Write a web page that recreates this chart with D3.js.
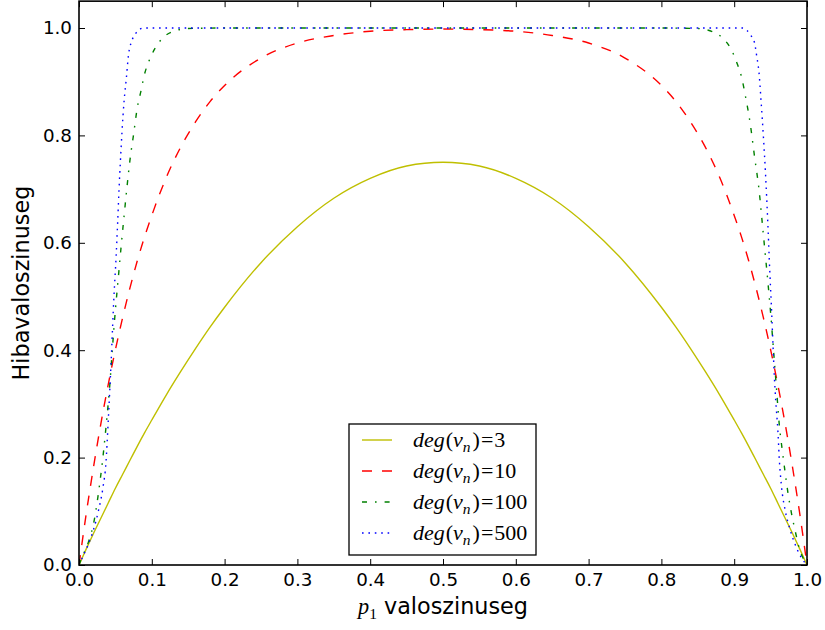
<!DOCTYPE html>
<html lang="en">
<head>
  <meta charset="UTF-8">
  <title>Hibavaloszinuseg</title>
  <script src="https://d3js.org/d3.v7.min.js"></script>
  <style>
    body { margin: 0; background: #fff; }
    text { font-family: "DejaVu Sans", sans-serif; fill: #000; }
    .tick line { stroke: #000; stroke-width: 1px; }
    .tick text { font-size: 18.3px; }
    .math { font-family: "Liberation Serif", "DejaVu Serif", serif; }
  </style>
</head>
<body>
  <svg width="825" height="630"></svg>

  <script>
    // tick values
    const xTicks = [0, 0.1, 0.2, 0.3, 0.4, 0.5, 0.6, 0.7, 0.8, 0.9, 1.0];
    const yTicks = [0, 0.2, 0.4, 0.6, 0.8, 1.0];

    // shared p grid for the deg=3 and deg=10 curves
    const pGrid = [0, 0.01, 0.02, 0.03, 0.04, 0.05, 0.06, 0.07, 0.08, 0.09, 0.10, 0.12, 0.14, 0.16, 0.18, 0.20,
      0.25, 0.30, 0.35, 0.40, 0.45, 0.50, 0.55, 0.60, 0.65, 0.70, 0.75, 0.80, 0.82, 0.84, 0.86, 0.88,
      0.90, 0.91, 0.92, 0.93, 0.94, 0.95, 0.96, 0.97, 0.98, 0.99, 1.0];
    const deg3 = [0, 0.030, 0.059, 0.087, 0.115, 0.143, 0.169, 0.195, 0.221, 0.246, 0.270, 0.317, 0.361, 0.403, 0.443, 0.480,
      0.563, 0.630, 0.683, 0.720, 0.743, 0.750, 0.743, 0.720, 0.683, 0.630, 0.563, 0.480, 0.443, 0.403, 0.361, 0.317,
      0.270, 0.246, 0.221, 0.195, 0.169, 0.143, 0.115, 0.087, 0.059, 0.030, 0];
    const deg10 = [0, 0.096, 0.183, 0.263, 0.335, 0.401, 0.461, 0.516, 0.566, 0.611, 0.651, 0.722, 0.779, 0.825, 0.863, 0.893,
      0.944, 0.972, 0.986, 0.994, 0.997, 0.998, 0.997, 0.994, 0.986, 0.972, 0.944, 0.893, 0.863, 0.825, 0.779, 0.722,
      0.651, 0.611, 0.566, 0.516, 0.461, 0.401, 0.335, 0.263, 0.183, 0.096, 0];

    // deg=100
    const p100 = [0, 0.005, 0.013, 0.021, 0.026, 0.030, 0.034, 0.038, 0.042, 0.046, 0.050, 0.054, 0.058, 0.062, 0.066, 0.070,
      0.075, 0.080, 0.085, 0.090, 0.096, 0.104, 0.114, 0.128, 0.150, 0.200, 0.500, 0.800, 0.850, 0.872, 0.886, 0.896,
      0.904, 0.910, 0.916, 0.922, 0.928, 0.934, 0.940, 0.946, 0.950, 0.954, 0.958, 0.962, 0.966, 0.970, 0.974, 0.979,
      0.984, 0.990, 0.995, 1.0];
    const deg100 = [0, 0.017, 0.043, 0.084, 0.127, 0.168, 0.215, 0.270, 0.330, 0.405, 0.475, 0.535, 0.595, 0.651, 0.705, 0.754,
      0.802, 0.851, 0.882, 0.914, 0.938, 0.961, 0.980, 0.993, 0.999, 1.0, 1.0, 1.0, 0.999, 0.992, 0.979, 0.960,
      0.934, 0.909, 0.869, 0.822, 0.760, 0.700, 0.616, 0.531, 0.470, 0.400, 0.330, 0.260, 0.214, 0.172, 0.133, 0.094,
      0.062, 0.028, 0.012, 0];

    // deg=500
    const p500 = [0, 0.006, 0.012, 0.020, 0.027, 0.033, 0.037, 0.040, 0.044, 0.048, 0.051, 0.053, 0.055, 0.057, 0.059, 0.062,
      0.065, 0.068, 0.072, 0.077, 0.082, 0.088, 0.500, 0.912, 0.918, 0.923, 0.928, 0.931, 0.934, 0.937, 0.940, 0.943,
      0.946, 0.949, 0.951, 0.953, 0.955, 0.957, 0.960, 0.962, 0.965, 0.970, 0.977, 0.985, 0.993, 1.0];
    const deg500 = [0, 0.018, 0.036, 0.066, 0.103, 0.145, 0.190, 0.264, 0.375, 0.500, 0.575, 0.635, 0.700, 0.755, 0.805, 0.865,
      0.906, 0.950, 0.974, 0.988, 0.996, 1.0, 1.0, 1.0, 0.995, 0.986, 0.972, 0.947, 0.918, 0.862, 0.800, 0.729,
      0.642, 0.543, 0.485, 0.419, 0.355, 0.307, 0.250, 0.196, 0.146, 0.102, 0.065, 0.034, 0.012, 0];

    const seriesNames = ["3", "10", "100", "500"];

    const series = [
      { name: seriesNames[0], xs: pGrid, ys: deg3, color: "#bfbf00", dash: null },
      { name: seriesNames[1], xs: pGrid, ys: deg10, color: "#ff0000", dash: "10,10" },
      { name: seriesNames[2], xs: p100, ys: deg100, color: "#008000", dash: "5,8,1.6,8" },
      { name: seriesNames[3], xs: p500, ys: deg500, color: "#0000ff", dash: "1.6,4.8" }
    ];

    const svg = d3.select("svg");
    const plotLeft = 79, plotRight = 807, plotTop = 1.15, plotBottom = 565;

    const x = d3.scaleLinear().domain([0, 1]).range([plotLeft, plotRight]);
    const y = d3.scaleLinear().domain([0, 1.05]).range([plotBottom, plotTop]);

    svg.append("defs").append("clipPath").attr("id", "clip")
      .append("rect")
      .attr("x", x(0)).attr("y", y(1.05))
      .attr("width", x(1) - x(0)).attr("height", y(0) - y(1.05));

    // curves
    const line = d3.line()
      .x(d => x(d[0]))
      .y(d => y(d[1]))
      .curve(d3.curveMonotoneX);

    const plot = svg.append("g").attr("clip-path", "url(#clip)");
    series.forEach(s => {
      plot.append("path")
        .datum(s.xs.map((v, i) => [v, s.ys[i]]))
        .attr("fill", "none")
        .attr("stroke", s.color)
        .attr("stroke-width", 1.4)
        .attr("stroke-dasharray", s.dash)
        .attr("d", line);
    });

    // axes, ticks pointing inward on all four sides
    const fmt = d3.format(".1f");
    const gx = svg.append("g").attr("transform", `translate(0,${y(0)})`)
      .call(d3.axisBottom(x).tickValues(xTicks).tickFormat(fmt).tickSize(-6).tickPadding(8.5));
    const gy = svg.append("g").attr("transform", `translate(${x(0)},0)`)
      .call(d3.axisLeft(y).tickValues(yTicks).tickFormat(fmt).tickSize(-6).tickPadding(7));
    const gt = svg.append("g").attr("transform", `translate(0,${y(1.05)})`)
      .call(d3.axisTop(x).tickValues(xTicks).tickFormat("").tickSize(-6));
    const gr = svg.append("g").attr("transform", `translate(${x(1)},0)`)
      .call(d3.axisRight(y).tickValues(yTicks).tickFormat("").tickSize(-6));
    [gx, gy, gt, gr].forEach(g => {
      g.select(".domain").remove();
      g.attr("font-family", null).attr("font-size", null);
    });

    // frame
    svg.append("rect")
      .attr("x", x(0)).attr("y", y(1.05))
      .attr("width", x(1) - x(0)).attr("height", y(0) - y(1.05))
      .attr("fill", "none").attr("stroke", "#000").attr("stroke-width", 1.6);

    // axis labels
    const xl = svg.append("text")
      .attr("x", (x(0) + x(1)) / 2).attr("y", 614)
      .attr("text-anchor", "middle")
      .attr("font-size", "22.3px");
    xl.append("tspan").attr("class", "math").attr("font-style", "italic").text("p");
    xl.append("tspan").attr("class", "math").attr("font-size", "15.5px").attr("dy", 5).text("1");
    xl.append("tspan").attr("dy", -5).text(" valoszinuseg");

    svg.append("text")
      .attr("transform", `translate(29,${(y(0) + y(1.05)) / 2}) rotate(-90)`)
      .attr("text-anchor", "middle")
      .attr("font-size", "22.3px")
      .text("Hibavaloszinuseg");

    // legend
    const lg = svg.append("g").attr("transform", "translate(349,424)");
    lg.append("rect")
      .attr("width", 187).attr("height", 131)
      .attr("fill", "#fff").attr("stroke", "#000").attr("stroke-width", 1.3);

    series.forEach((s, i) => {
      const cy = 16 + i * 31;
      lg.append("line")
        .attr("x1", 13).attr("x2", 43).attr("y1", cy).attr("y2", cy)
        .attr("stroke", s.color).attr("stroke-width", 1.4)
        .attr("stroke-dasharray", s.dash);
      const t = lg.append("text").attr("class", "math")
        .attr("x", 64).attr("y", cy + 7).attr("font-size", "22px");
      t.append("tspan").attr("font-style", "italic").text("deg");
      t.append("tspan").attr("dx", 1).text("(");
      t.append("tspan").attr("font-style", "italic").text("v");
      t.append("tspan").attr("font-style", "italic").attr("font-size", "15.5px").attr("dy", 4.5).text("n");
      t.append("tspan").attr("dy", -4.5).attr("dx", 2).text(")");
      t.append("tspan").attr("dx", 1).text("=");
      t.append("tspan").attr("dx", 1).text(s.name);
    });
  </script>
</body>
</html>
